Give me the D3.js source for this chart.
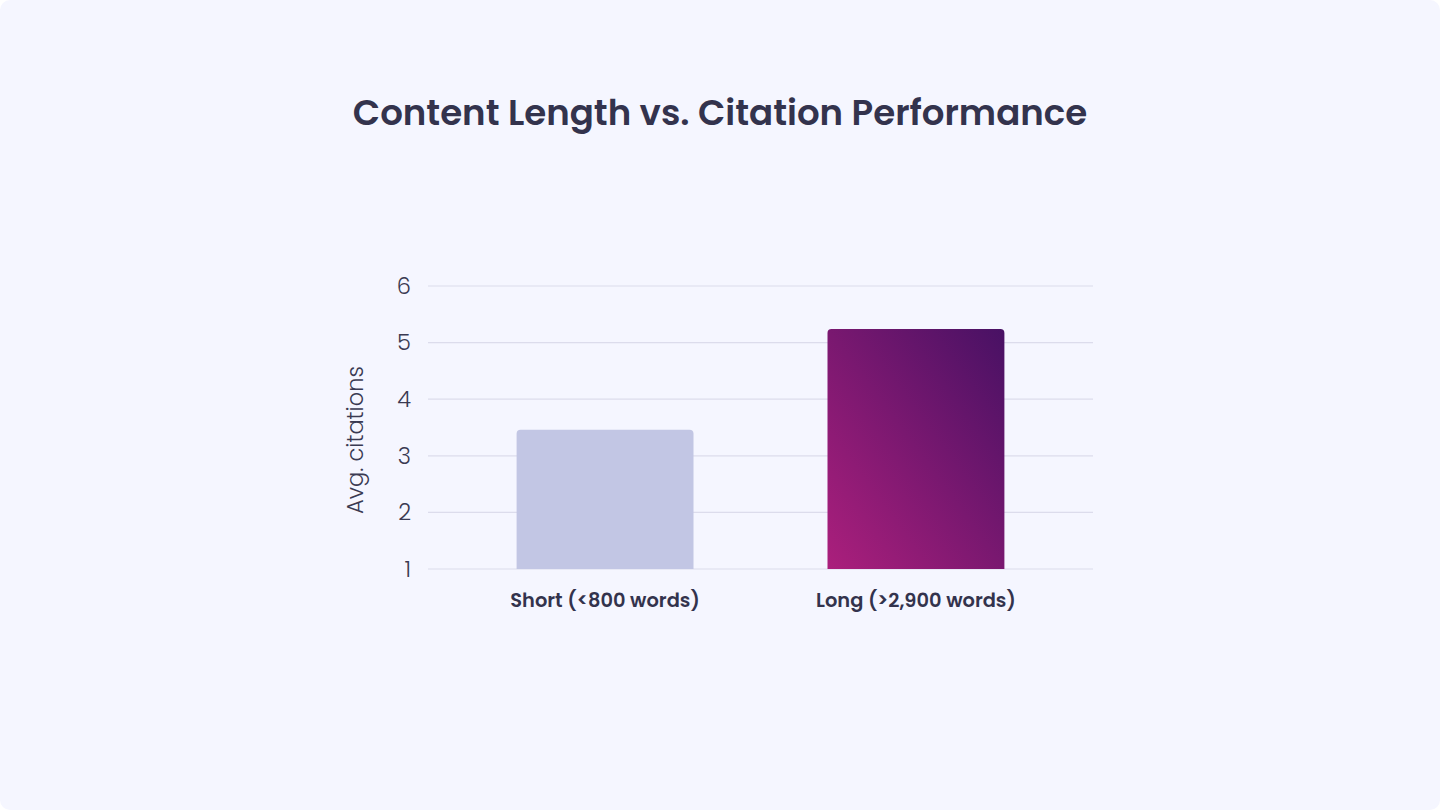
<!DOCTYPE html>
<html><head><meta charset="utf-8">
<script src="https://cdn.jsdelivr.net/npm/d3@7"></script>
<style>
html,body{margin:0;padding:0;background:#ffffff;}
svg{display:block;}
</style></head>
<body>
<svg id="chart" width="1440" height="810"></svg>
<script>
const categories = ["Short (<800 words)", "Long (>2,900 words)"];
const values = [3.46, 5.24];
const yTicks = [1, 2, 3, 4, 5, 6];
const title = "Content Length vs. Citation Performance";
const yLabel = "Avg. citations";

const svg = d3.select("#chart");
const defs = svg.append("defs");
const grad = defs.append("linearGradient").attr("id","longGrad")
  .attr("x1","0%").attr("y1","100%").attr("x2","100%").attr("y2","0%");
grad.append("stop").attr("offset","0%").attr("stop-color","#ab1f7c");
grad.append("stop").attr("offset","100%").attr("stop-color","#481164");

svg.append("rect").attr("x",0).attr("y",0).attr("width",1440).attr("height",810)
  .attr("rx",10).attr("fill","#f5f6ff");

const font = "Poppins, Inter, 'Open Sans', sans-serif";
svg.append("text").attr("x",720).attr("y",125).attr("text-anchor","middle")
  .attr("font-family",font).attr("font-weight",600).attr("font-size",35.6)
  .attr("fill","#33334d").text(title);

const x = d3.scaleBand().domain(categories).range([428,1093]).paddingInner(0.431).paddingOuter(0.285);
const y = d3.scaleLinear().domain([1,6]).range([569,286]);

const grid = svg.append("g");
grid.selectAll("line").data(yTicks).join("line")
  .attr("x1",428).attr("x2",1093)
  .attr("y1",d=>y(d)).attr("y2",d=>y(d))
  .attr("stroke","#dcdcec").attr("stroke-width",1.2);

const yAxis = svg.append("g").attr("transform","translate(428,0)")
  .call(d3.axisLeft(y).tickValues(yTicks).tickFormat(d3.format("d")).tickSize(0).tickPadding(17));
yAxis.select(".domain").remove();
yAxis.selectAll("text").attr("font-family",font).attr("font-size",22.5)
  .attr("fill","#3a3a52").attr("font-weight",300);

svg.append("text").attr("transform","translate(363,440) rotate(-90)")
  .attr("text-anchor","middle").attr("font-family",font).attr("font-size",22.5)
  .attr("font-weight",300).attr("fill","#3a3a52").text(yLabel);

const r = 4;
const fills = ["#c2c6e4","url(#longGrad)"];
svg.append("g").selectAll("path").data(categories).join("path")
  .attr("d",(c,i)=>{
    const x0 = x(c), w = x.bandwidth(), y0 = y(values[i]), yb = y(1);
    return `M${x0},${yb} L${x0},${y0+r} Q${x0},${y0} ${x0+r},${y0} L${x0+w-r},${y0} Q${x0+w},${y0} ${x0+w},${y0+r} L${x0+w},${yb} Z`;
  })
  .attr("fill",(c,i)=>fills[i]);

const xAxis = svg.append("g").attr("transform","translate(0,569)")
  .call(d3.axisBottom(x).tickSize(0).tickPadding(24));
xAxis.select(".domain").remove();
xAxis.selectAll("text").attr("font-family",font).attr("font-size",19.4)
  .attr("font-weight",600).attr("fill","#33334d");
</script>
</body></html>
